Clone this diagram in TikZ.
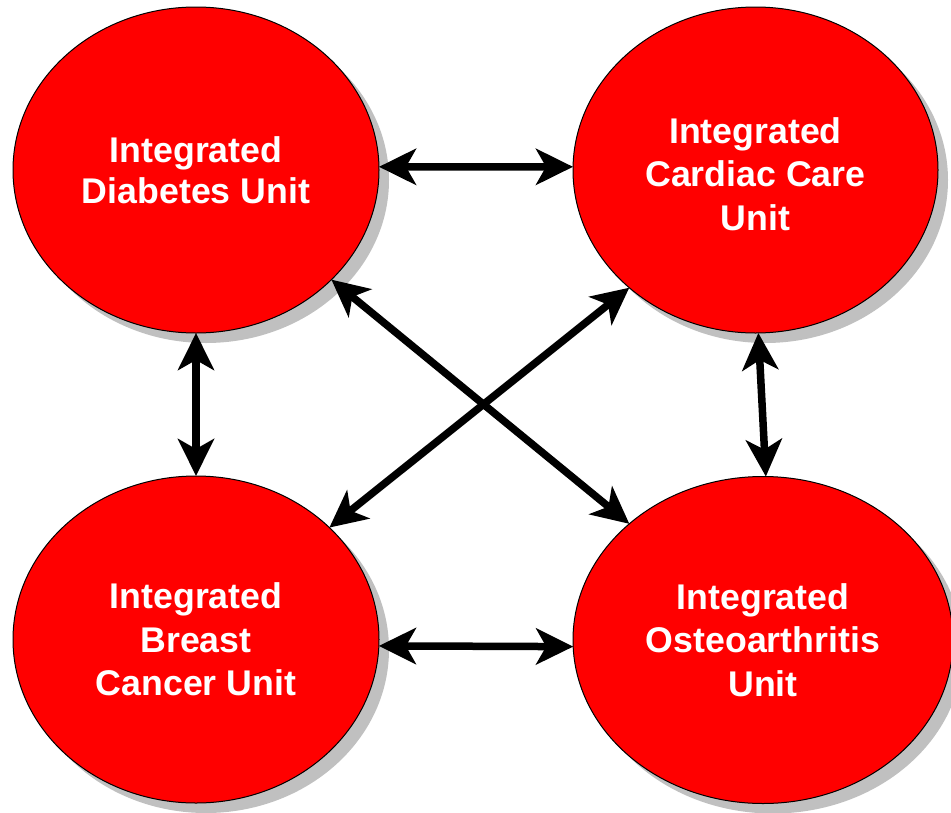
\documentclass[tikz,border=0pt]{standalone}
\usepackage{fontspec}
\setmainfont{Liberation Sans}
\usetikzlibrary{arrows.meta,shapes.geometric,shadows}
\definecolor{unitred}{RGB}{255,0,0}
\definecolor{shadowgray}{RGB}{192,192,192}
\tikzset{
  unit/.style={ellipse, draw=black, line width=1pt, fill=unitred, inner sep=0pt, outer sep=0pt,
    text=white, align=center, font=\bfseries\fontsize{35.7}{43.5}\selectfont,
    drop shadow={shadow xshift=10pt, shadow yshift=-10pt, fill=shadowgray, opacity=1}},
  link/.style={line width=7.5pt, {Stealth[length=37pt,width=36pt,inset=10pt]}-{Stealth[length=37pt,width=36pt,inset=10pt]}}
}
\begin{document}
\begin{tikzpicture}[x=1pt,y=-1pt]
\useasboundingbox (0,0) rectangle (951,812);
\node[unit, minimum width=366pt, minimum height=326pt, font=\bfseries\fontsize{35.7}{41.5}\selectfont] (tl) at (196,170) {Integrated\\Diabetes Unit};
\node[unit, minimum width=365pt, minimum height=326pt] (tr) at (755.5,170) {\rule{0pt}{34pt}Integrated\\Cardiac Care\\Unit};
\node[unit, minimum width=366pt, minimum height=327pt] (bl) at (196,639.5) {Integrated\\Breast\\Cancer Unit};
\node[unit, minimum width=380pt, minimum height=327pt] (br) at (763,640) {Integrated\\Osteoarthritis\\Unit};
\draw[link] (tl.1) -- (tr.179);
\draw[link] (bl.-2.2) -- (br.182.2);
\draw[link] (tl.-90) -- (bl.90);
\draw[link] (tr.-89.8) -- (br.89);
\draw[link] (tl.-39.6) -- (br.139.4);
\draw[link] (tr.-137.6) -- (bl.40.9);
\end{tikzpicture}
\end{document}
